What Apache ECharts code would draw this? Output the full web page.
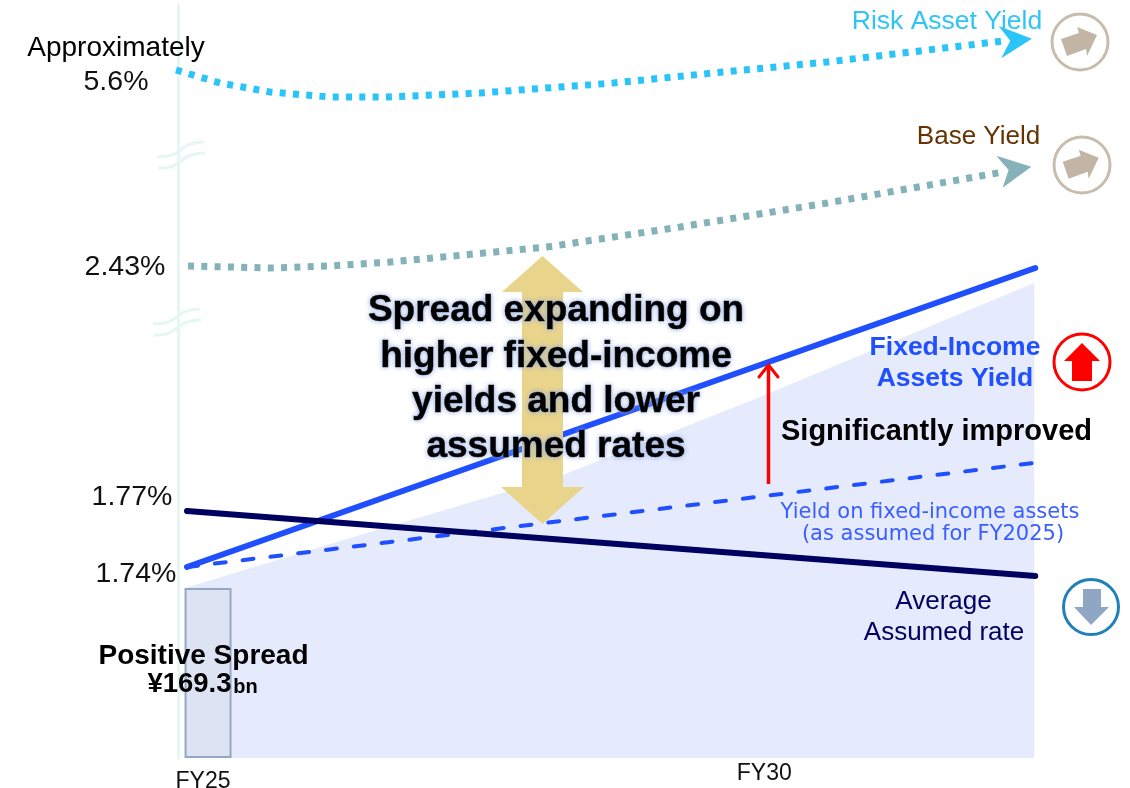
<!DOCTYPE html>
<html><head><meta charset="utf-8">
<script src="https://cdn.jsdelivr.net/npm/echarts@6/dist/echarts.min.js"></script>
<style>html,body{margin:0;padding:0;background:#fff}#c{width:1130px;height:788px}</style>
</head><body><div id="c"></div>
<script>
// x = fiscal year; y = schematic height above the baseline (the chart has no printed scale)
const tickYears = [25, 30];
const riskX = [24.712, 25.108, 25.557, 26.097, 26.618, 27.446, 28.642, 29.541, 30.566, 32.148];
const riskY = [688, 675, 666, 661, 661, 665, 675, 685, 696, 717];
const baseX = [24.82, 25.557, 26.097, 26.636, 28.048, 29.244, 30.566, 32.148];
const baseY = [492, 490, 492, 496, 511, 531, 555, 586];
const fixedX = [24.811, 32.436];
const fixedY = [191, 490];
const plannedX = [24.811, 32.418];
const plannedY = [191, 295];
const assumedX = [24.811, 32.436];
const assumedY = [247, 182];
const spreadX = [24.793, 26.277, 28.192, 29.963, 32.427];
const spreadY = [170, 220, 283, 361, 475];
const spreadBarX = 25;
const spreadBarY = 170;
const riskHead = [32.256, 715.8];
const baseHead = [32.243, 586.3];

const zip = (a, b) => a.map((v, i) => [v, b[i]]);
const SANS = '"Liberation Sans", Arial, sans-serif';
function txt(text, x, y, size, color, opt) {
  opt = opt || {};
  return { type: 'text', z: opt.z || 120, style: Object.assign({
    text, x, y: y + 1.5, fill: color, font: (opt.bold ? 'bold ' : '') + size + 'px ' + (opt.family || SANS),
    align: opt.align || 'center', verticalAlign: 'middle'
  }, opt.style || {}) };
}
function ring(cx, cy, r, color) {
  return { type: 'circle', z: 110, shape: { cx, cy, r }, style: { fill: '#fff', stroke: color, lineWidth: 3 } };
}
function poly(points, color, z) {
  return { type: 'polygon', z: z || 111, shape: { points }, style: { fill: color } };
}
function breakMark(ox, oy) {
  return [
    { type: 'bezierCurve', z: 5, shape: { x1: ox, y1: oy + 15, cpx1: ox + 30, cpy1: oy + 15, cpx2: ox + 18, cpy2: oy + 1, x2: ox + 47, y2: oy }, style: { fill: 'none', stroke: '#e6f6f2', lineWidth: 3 } },
    { type: 'bezierCurve', z: 5, shape: { x1: ox + 1, y1: oy + 26, cpx1: ox + 30, cpy1: oy + 26, cpx2: ox + 18, cpy2: oy + 12, x2: ox + 48, y2: oy + 11 }, style: { fill: 'none', stroke: '#e6f6f2', lineWidth: 3 } }
  ];
}
const glow = { textShadowColor: '#8fa8dc', textShadowBlur: 5, stroke: '#000', lineWidth: 0.6 };
const tan = '#c2b5a6';
const tanArrow = (dx, dy) => [[1061,39],[1067,56],[1086,49],[1087,56],[1097,35],[1077,27],[1079,33]].map(p => [p[0] + dx, p[1] + dy]);

const graphic = [
  ...breakMark(157, 142), ...breakMark(153, 309),
  // big double arrow
  poly([[542.5,256],[583,292],[563,292],[563,487],[584,487],[542.5,524],[501,487],[522,487],[522,292],[502,292]], '#e9d48c', 100),
  // red improvement arrow
  { type: 'line', z: 101, shape: { x1: 768.5, y1: 484, x2: 768.5, y2: 366 }, style: { stroke: '#ff0000', lineWidth: 3.5 } },
  { type: 'polyline', z: 101, shape: { points: [[759,377],[768.5,365],[778,377]] }, style: { fill: 'none', stroke: '#ff0000', lineWidth: 3, lineCap: 'round' } },
  // trend rings
  ring(1080, 42, 28, '#c8bcad'), poly(tanArrow(0, 0), tan),
  ring(1082, 165, 28, '#c8bcad'), poly(tanArrow(1.7, 122.8), tan),
  ring(1082, 362, 28, '#ff0000'), poly([[1082,343],[1100,361],[1092,361],[1092,381],[1072,381],[1072,361],[1064,361]], '#ff0000'),
  ring(1091, 607, 27.5, '#1f80bb'), poly([[1083,589],[1101,589],[1101,607],[1109,607],[1091,625],[1074,607],[1083,607]], '#8fa6c4'),
  // texts
  txt('Approximately', 116, 47, 28, '#000'),
  txt('5.6%', 116, 81, 28.5, '#111'),
  txt('2.43%', 125, 266, 28.5, '#111'),
  txt('1.77%', 132, 496, 28.5, '#111'),
  txt('1.74%', 136, 573, 28.5, '#111'),
  txt('Risk Asset Yield', 947, 20, 26.5, '#2fc4f5'),
  txt('Base Yield', 978.5, 135, 26, '#663300'),
  txt('Fixed-Income', 955, 346, 26.5, '#1f4fff', { bold: true }),
  txt('Assets Yield', 955, 377, 26.5, '#1f4fff', { bold: true }),
  txt('Significantly improved', 936.5, 430, 29, '#000', { bold: true }),
  txt('Yield on fixed-income assets', 930, 511, 21, '#3a5eff', { family: '"DejaVu Sans", sans-serif' }),
  txt('(as assumed for FY2025)', 933, 533, 21, '#3a5eff', { family: '"DejaVu Sans", sans-serif' }),
  txt('Average', 943.5, 600, 26, '#000060'),
  txt('Assumed rate', 944, 631, 26, '#000060'),
  txt('Positive Spread', 203.5, 655, 28, '#000', { bold: true }),
  txt('¥169.3', 189.5, 683, 27.5, '#000', { bold: true }),
  txt('bn', 245.5, 686, 20, '#000', { bold: true }),
  txt('Spread expanding on', 556, 309, 37, '#000', { bold: true, style: glow }),
  txt('higher fixed-income', 556, 355, 37, '#000', { bold: true, style: glow }),
  txt('yields and lower', 556, 400, 37, '#000', { bold: true, style: glow }),
  txt('assumed rates', 556, 445, 37, '#000', { bold: true, style: glow })
];

const line = (name, x, y, color, width, extra) => ({
  name, type: 'line', data: zip(x, y), symbol: 'none', clip: false, silent: true, z: 3,
  lineStyle: Object.assign({ color, width }, extra || {})
});

const option = {
  animation: false,
  backgroundColor: '#fff',
  grid: { left: 178, right: 32, top: 5, bottom: 30, outerBoundsMode: 'none' },
  xAxis: {
    type: 'value', min: 24.73, max: 33, splitLine: { show: false },
    axisLine: { show: false }, axisTick: { show: false },
    axisLabel: {
      customValues: tickYears, margin: 4, color: '#111', fontFamily: SANS, fontSize: 23,
      formatter: v => v === tickYears[0] ? '{a|FY' + v + '}' : '{b|FY' + v + '}',
      rich: {
        a: { fontSize: 23, fontFamily: SANS, color: '#111', padding: [8, 10, 0, 0] },
        b: { fontSize: 23, fontFamily: SANS, color: '#111' }
      }
    }
  },
  yAxis: {
    type: 'value', min: 0, max: 753, splitLine: { show: false },
    axisLine: { show: true, onZero: false, lineStyle: { color: '#e6f6f2', width: 3 } },
    axisTick: { show: false }, axisLabel: { show: false }
  },
  graphic: { elements: graphic },
  series: [
    { name: 'Positive spread area', type: 'line', data: zip(spreadX, spreadY), symbol: 'none', clip: false, z: 1,
      lineStyle: { width: 0 }, areaStyle: { color: '#e5eafc', opacity: 1, origin: 'start' } },
    { name: 'FY25 spread', type: 'bar', data: [[spreadBarX, spreadBarY]], barWidth: 47, z: 2,
      itemStyle: { color: '#dde3f3', borderColor: '#92a8c6', borderWidth: 2 } },
    line('Risk Asset Yield', riskX, riskY, '#2ac4f9', 7, { type: [6, 7.3], cap: 'butt' }),
    line('Base Yield', baseX, baseY, '#84b2b8', 7, { type: [6, 7.3], cap: 'butt' }),
    line('Yield as assumed for FY2025', plannedX, plannedY, '#1f4fff', 4, { type: [11, 17], cap: 'round' }),
    line('Fixed-Income Assets Yield', fixedX, fixedY, '#1f4fff', 6, { cap: 'round' }),
    line('Average Assumed rate', assumedX, assumedY, '#000060', 6, { cap: 'round' }),
    { name: 'Risk head', type: 'scatter', data: [riskHead], z: 4, silent: true, clip: false,
      symbol: 'path://M0,0 L100,38 L8,97 L35,44 Z', symbolSize: [33.3, 32.3],
      itemStyle: { color: '#2ac4f9', opacity: 1 } },
    { name: 'Base head', type: 'scatter', data: [baseHead], z: 4, silent: true, clip: false,
      symbol: 'path://M0,0 L105,33 L19,96 L37,43 Z', symbolSize: [35, 32],
      itemStyle: { color: '#84b2b8', opacity: 1 } }
  ]
};
echarts.init(document.getElementById('c'), null, { renderer: 'canvas' }).setOption(option);
</script></body></html>
